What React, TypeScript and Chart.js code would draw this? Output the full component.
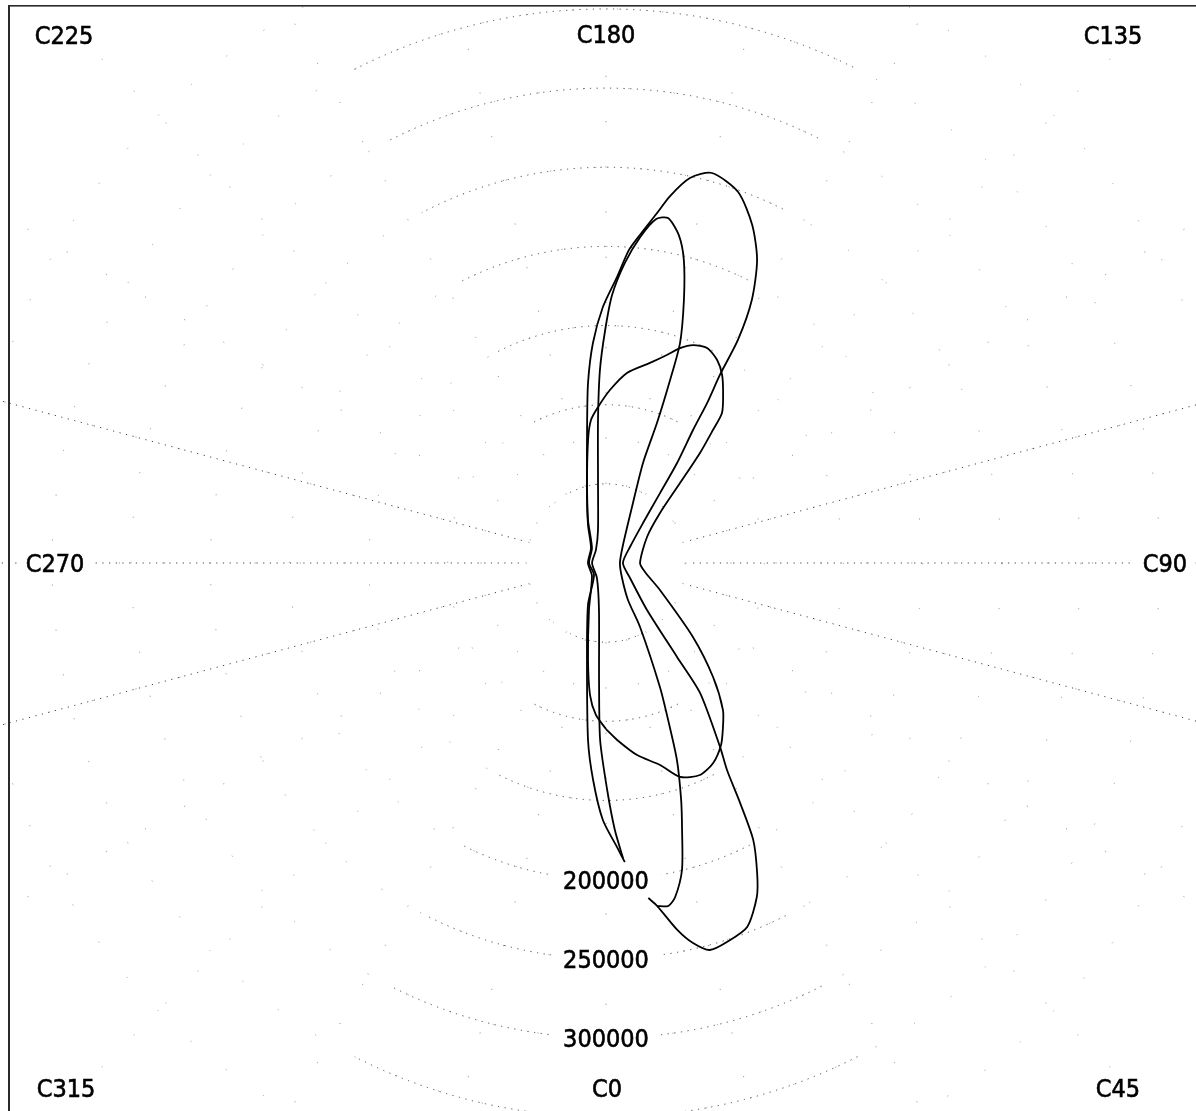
import React, { useEffect, useRef } from "react";
import { Chart, registerables } from "chart.js";

Chart.register(...registerables);

// ---------- data (C-plane angle in degrees, intensity in cd) ----------
const planeLabels = ["C0", "C45", "C90", "C135", "C180", "C225", "C270", "C315"];
const ringValues = [50000, 100000, 150000, 200000, 250000, 300000, 350000, 400000];
const labelledRings = [200000, 250000, 300000];
const spokeAngles = [0, 15, 30, 45, 60, 75, 90, 105, 120, 135, 150, 165, 180, 195, 210, 225, 240, 255, 270, 285, 300, 315, 330, 345];
const mainSpokes = [75, 90, 105, 255, 270, 285];

const wideAngles = [7.2, 8.5, 11.0, 12.9, 15.0, 17.7, 21.2, 24.3, 26.0, 28.0, 29.2, 30.3, 31.8, 35.9, 37.1, 41.1, 58.0, 90, 123.7, 137.2, 142.3, 144.6, 146.8, 147.7, 148.8, 149.4, 151.0, 153.5, 156.6, 160.4, 164.8, 167.7, 170.1, 171.8, 174.1, 175.8, 177.8, 180.7, 183.4, 185.7, 188.1, 192.9, 202.7, 223.0, 270, 315, 336.8, 348.9, 354.2, 356.6, 359.3, 362.2, 363.6];
const wideValues = [213300, 219100, 236100, 246300, 253100, 251300, 246600, 231500, 217800, 198100, 173600, 151500, 136700, 101300, 74400, 39400, 17900, 10700, 18200, 34400, 55800, 77500, 100400, 119500, 138900, 163700, 190000, 213900, 232600, 248800, 255300, 248900, 235300, 222700, 208300, 198300, 180800, 161700, 139200, 114300, 84900, 53800, 29500, 13000, 10700, 10700, 28900, 62400, 112400, 137300, 162400, 179500, 189300];

const narrowAngles = [8.5, 10.3, 11.7, 13.9, 15.9, 17.6, 19.8, 21.6, 23.5, 28.0, 30.7, 46.8, 90, 136.6, 155.1, 159.7, 160.0, 160.7, 161.4, 163.5, 165.6, 167.5, 169.8, 171.7, 174.0, 176.4, 178.7, 180.2, 181.8, 183.2, 185.5, 193.6, 217.6, 270, 329.0, 351.5, 356.6, 358.1, 360.3, 361.9, 363.3];
const narrowValues = [219100, 220200, 215500, 199800, 175400, 157000, 132300, 106600, 85400, 45800, 27200, 13900, 8800, 15600, 39000, 67400, 94100, 122500, 146600, 173300, 197700, 212300, 221400, 219600, 207100, 189900, 169300, 147200, 122000, 90500, 52700, 21500, 10400, 8800, 11100, 30000, 74000, 111900, 143400, 168800, 186700];

const innerAngles = [0, 3.6, 9.2, 15.0, 19.1, 23.9, 28.2, 32.3, 35.3, 38.5, 43.2, 49.6, 63.4, 77.0, 90, 122.4, 132.8, 137.2, 139.5, 141.2, 142.3, 145.1, 148.3, 151.3, 154.8, 158.2, 161.0, 163.7, 167.6, 173.7, 178.7, 182.9, 186.0, 188.3, 194.6, 205.3, 225, 270, 312.9, 340.1, 349.5, 353.1, 356.2, 360];
const innerValues = [104900, 112000, 122900, 132100, 143000, 146500, 143300, 136000, 127800, 118700, 98800, 72100, 38100, 25300, 21500, 30700, 46500, 68800, 91400, 107800, 119800, 129300, 139600, 146200, 150100, 148300, 143600, 136900, 129400, 120800, 109300, 98700, 90800, 78500, 47700, 26600, 13400, 11400, 12100, 31600, 62300, 84000, 96200, 104900];

// ---------- layout / style ----------
const CANVAS_W = 1196;
const CANVAS_H = 1111;
const CENTER_X = 606;
const CENTER_Y = 563;
const PX_PER_CD = 0.001583;
const FONT = '25px "DejaVu Sans Condensed", "DejaVu Sans", sans-serif';

const planeLabelPos: Record<string, [number, number]> = {
  C0: [607, 1097],
  C45: [1118, 1097],
  C90: [1165, 572],
  C135: [1113, 44],
  C180: [606, 43],
  C225: [64, 44],
  C270: [55, 572],
  C315: [66, 1097],
};

function toXY(angles: number[], values: number[]) {
  return angles.map((a, i) => {
    const t = (a * Math.PI) / 180;
    return { x: values[i] * Math.sin(t), y: -values[i] * Math.cos(t) };
  });
}

const rad = (d: number) => (d * Math.PI) / 180;

const polarGridPlugin = {
  id: "polarGrid",
  beforeDatasetsDraw(chart: any) {
    const ctx: CanvasRenderingContext2D = chart.ctx;
    const xs = chart.scales.x;
    const ys = chart.scales.y;
    const cx = xs.getPixelForValue(0);
    const cy = ys.getPixelForValue(0);
    const k = (xs.getPixelForValue(100000) - cx) / 100000;
    ctx.save();

    // sparse full grid
    ctx.strokeStyle = "#999";
    ctx.lineWidth = 1;
    ctx.setLineDash([1.2, 44]);
    ringValues.forEach((r) => {
      ctx.beginPath();
      ctx.arc(cx, cy, r * k, 0, Math.PI * 2);
      ctx.stroke();
    });
    spokeAngles.forEach((a) => {
      const t = rad(a);
      ctx.beginPath();
      ctx.moveTo(cx + 50000 * k * Math.sin(t), cy + 50000 * k * Math.cos(t));
      ctx.lineTo(cx + 600000 * k * Math.sin(t), cy + 600000 * k * Math.cos(t));
      ctx.stroke();
    });

    // denser dotted parts
    ctx.strokeStyle = "#444";
    ctx.setLineDash([1.2, 5.5]);
    ringValues.forEach((r) => {
      [[-27, 27], [153, 207]].forEach(([t1, t2]) => {
        ctx.beginPath();
        ctx.arc(cx, cy, r * k, rad(90 - t2), rad(90 - t1));
        ctx.stroke();
      });
    });
    mainSpokes.forEach((a) => {
      const t = rad(a);
      ctx.beginPath();
      ctx.moveTo(cx + 55000 * k * Math.sin(t), cy + 55000 * k * Math.cos(t));
      ctx.lineTo(cx + 600000 * k * Math.sin(t), cy + 600000 * k * Math.cos(t));
      ctx.stroke();
    });
    ctx.setLineDash([]);

    // text
    ctx.font = FONT;
    ctx.textAlign = "center";
    ctx.textBaseline = "alphabetic";
    ctx.lineWidth = 0.6;
    const drawLabel = (text: string, x: number, baseY: number, padX: number) => {
      const w = ctx.measureText(text).width;
      ctx.fillStyle = "#fff";
      ctx.fillRect(x - w / 2 - padX, baseY - 22, w + padX * 2, 28);
      ctx.fillStyle = "#000";
      ctx.strokeStyle = "#000";
      ctx.fillText(text, x, baseY);
      ctx.strokeText(text, x, baseY);
    };
    labelledRings.forEach((r) => {
      drawLabel(String(r), cx, cy + r * k + 9.5, 12);
    });
    planeLabels.forEach((lab) => {
      const p = planeLabelPos[lab];
      drawLabel(lab, p[0], p[1], 8);
    });

    // frame lines
    ctx.fillStyle = "#2a2a2a";
    ctx.fillRect(8, 5, 2, CANVAS_H - 5);
    ctx.fillRect(8, 5, CANVAS_W - 8, 1.6);
    ctx.restore();
  },
};

export default function App() {
  const ref = useRef<HTMLCanvasElement | null>(null);

  useEffect(() => {
    if (!ref.current) return;
    const lineStyle = {
      showLine: true,
      borderColor: "#000",
      borderWidth: 1.8,
      pointRadius: 0,
      tension: 0.25,
      fill: false,
    };
    const chart = new Chart(ref.current, {
      type: "scatter",
      data: {
        datasets: [
          { label: "wide", data: toXY(wideAngles, wideValues), ...lineStyle },
          { label: "narrow", data: toXY(narrowAngles, narrowValues), ...lineStyle },
          { label: "inner", data: toXY(innerAngles, innerValues), ...lineStyle },
        ],
      },
      options: {
        animation: false,
        responsive: false,
        events: [],
        layout: { padding: 0 },
        plugins: { legend: { display: false }, tooltip: { enabled: false }, title: { display: false } },
        scales: {
          x: {
            type: "linear",
            display: false,
            bounds: "data",
            min: -CENTER_X / PX_PER_CD,
            max: (CANVAS_W - CENTER_X) / PX_PER_CD,
          },
          y: {
            type: "linear",
            display: false,
            bounds: "data",
            min: -(CANVAS_H - CENTER_Y) / PX_PER_CD,
            max: CENTER_Y / PX_PER_CD,
          },
        },
      },
      plugins: [polarGridPlugin],
    });
    return () => chart.destroy();
  }, []);

  return (
    <div style={{ position: "absolute", left: 0, top: 0, width: CANVAS_W, height: CANVAS_H, background: "#fff" }}>
      <canvas ref={ref} width={CANVAS_W} height={CANVAS_H} style={{ display: "block" }} />
    </div>
  );
}
